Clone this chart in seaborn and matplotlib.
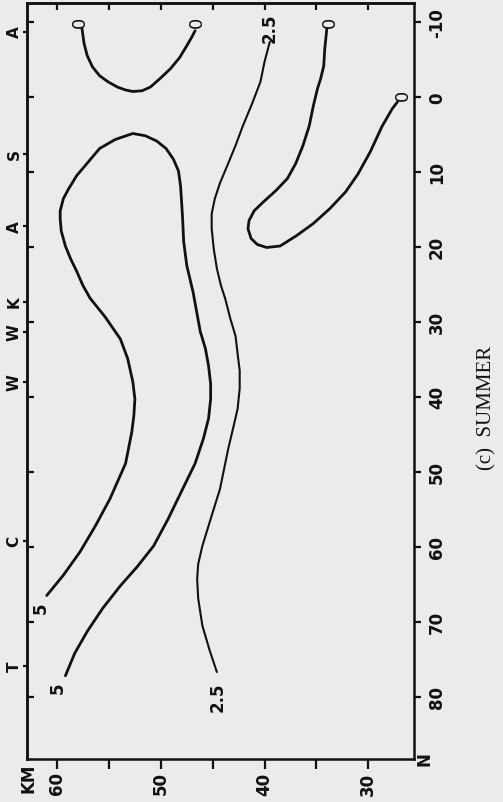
import matplotlib
matplotlib.use("Agg")
import matplotlib.pyplot as plt
import pandas as pd
import seaborn as sns

# ---- isopleth traces: altitude (km) and latitude (deg N) along each line ----
zero_west_alt = [57.6, 57.4, 57.1, 56.6, 55.9, 55.1, 54.2, 53.4, 52.7, 51.8,
                 51.0, 50.1, 49.1, 48.2, 47.5, 47.0, 46.7]
zero_west_lat = [-9.1, -7.1, -5.5, -4.0, -2.8, -2.0, -1.3, -0.9, -0.7, -0.8,
                 -1.3, -2.4, -3.7, -5.2, -6.8, -8.0, -8.8]

five_alt = [61.0, 59.4, 57.8, 56.3, 54.9, 53.4, 52.8, 52.6, 52.5, 52.7, 53.2,
            53.9, 55.4, 56.8, 57.5, 58.1, 58.7, 59.2, 59.6, 59.7, 59.7, 59.4,
            58.9, 58.1, 57.0, 55.9, 54.4, 52.7, 51.5, 50.4, 49.5, 48.8, 48.3,
            48.1, 48.0, 47.9, 47.8, 47.5, 46.9, 46.2, 45.7, 45.4, 45.2, 45.2,
            45.4, 45.9, 46.7, 47.9, 49.3, 50.7, 52.3, 53.9, 55.6, 57.1, 58.3,
            59.2]
five_lat = [66.5, 63.8, 60.7, 57.2, 53.6, 48.9, 44.7, 42.5, 40.3, 38.0, 34.9,
            32.3, 29.3, 26.9, 25.2, 23.3, 21.6, 19.9, 17.9, 16.3, 15.2, 13.6,
            12.3, 10.5, 8.7, 6.9, 5.7, 4.9, 5.2, 5.9, 6.9, 8.3, 9.9,
            11.9, 14.0, 16.3, 19.3, 22.5, 26.0, 31.3, 33.6, 35.9, 38.3, 40.3,
            42.9, 45.6, 48.9, 52.3, 56.3, 59.9, 62.7, 65.2, 68.2, 71.3, 74.2,
            77.2]

two_five_alt = [39.5, 40.0, 40.4, 41.2, 42.1, 42.8, 43.6, 44.3, 44.8, 45.1,
                45.1, 44.9, 44.6, 44.2, 43.8, 43.3, 42.8, 42.6, 42.4, 42.4,
                42.6, 43.0, 43.5, 44.3, 45.2, 46.0, 46.4, 46.5, 46.4, 46.0,
                45.3, 44.6]
two_five_lat = [-7.3, -4.7, -2.0, 0.9, 3.9, 6.5, 9.2, 11.5, 13.6, 15.6,
                17.6, 20.3, 22.9, 25.2, 26.9, 29.6, 31.9, 34.3, 36.5, 38.9,
                41.6, 44.0, 46.9, 52.3, 56.3, 59.9, 62.3, 64.3, 66.9, 70.5,
                73.8, 76.7]

zero_east_alt = [34.0, 34.2, 34.3, 34.6, 34.9, 35.3, 35.7, 36.3, 37.0, 37.8,
                 38.9, 40.1, 41.0, 41.5, 41.6, 41.3, 40.7, 39.8, 38.5, 36.9,
                 35.3, 33.7, 32.2, 31.0, 29.8, 28.7, 27.7, 27.2]
zero_east_lat = [-9.1, -6.4, -4.1, -2.4, -1.1, 1.2, 3.9, 6.5, 8.9, 10.9,
                 12.5, 14.0, 15.2, 16.5, 17.6, 18.9, 19.7, 20.1, 19.9, 18.5,
                 16.9, 14.9, 12.7, 10.3, 7.3, 4.0, 1.6, 0.7]

# ---- line values written at the ends of each isopleth ----
end_text = ["0", "0", "5", "5", "2.5", "2.5", "0", "0"]
end_alt = [57.8, 46.5, 61.6, 59.9, 39.5, 44.5, 33.7, 26.7]
end_lat = [-10.1, -10.0, 68.0, 78.7, -9.3, 79.9, -10.1, -0.3]

# ---- axes ticks ----
alt_major = [60, 50, 40, 30]
alt_minor = [55, 45, 35]
lat_ticks = [-10, 0, 10, 20, 30, 40, 50, 60, 70, 80]

# ---- stations along the upper edge ----
station_name = ["A", "S", "A", "K", "W", "W", "C", "T"]
station_lat = [-8.7, 7.6, 17.2, 27.3, 31.3, 38.0, 59.2, 75.9]

PAPER = "#ebebeb"
INK = "#111111"

sns.set_theme(style="white")
plt.rcParams["font.family"] = ["DejaVu Sans"]

fig = plt.figure(figsize=(5.03, 8.03), dpi=100, facecolor=PAPER)
ax = fig.add_axes([27 / 503, 43 / 803, 387 / 503, 756 / 803])
ax.set_facecolor(PAPER)

lines = [
    (zero_west_alt, zero_west_lat, 2.0),
    (five_alt, five_lat, 2.0),
    (two_five_alt, two_five_lat, 1.5),
    (zero_east_alt, zero_east_lat, 2.0),
]
for xs, ys, lw in lines:
    df = pd.DataFrame({"alt": xs, "lat": ys})
    sns.lineplot(data=df, x="alt", y="lat", sort=False, estimator=None,
                 color=INK, lw=lw, ax=ax, solid_joinstyle="round",
                 solid_capstyle="round")

for t, a, l in zip(end_text, end_alt, end_lat):
    ax.text(a, l, t, rotation=90, ha="center", va="center", color=INK,
            fontsize=12 if t != "0" else 13,
            fontweight="bold" if t != "0" else "normal")

ax.set_xlim(62.9, 25.6)
ax.set_ylim(88.3, -12.5)
ax.set_xlabel("")
ax.set_ylabel("")

for sp in ax.spines.values():
    sp.set_visible(True)
    sp.set_linewidth(1.8)
    sp.set_color(INK)

# altitude scale (bottom)
ax.set_xticks(alt_major, labels=[str(v) for v in alt_major])
ax.set_xticks(alt_minor, minor=True)
ax.tick_params(axis="x", which="both", direction="out", length=7, width=1.6,
               color=INK, bottom=True, top=False, pad=2, labelsize=12,
               labelrotation=90, labelcolor=INK)
for lab in ax.get_xticklabels():
    lab.set_fontweight("bold")

# latitude scale (right)
ax.yaxis.tick_right()
ax.set_yticks(lat_ticks, labels=[str(v) for v in lat_ticks])
ax.tick_params(axis="y", which="major", direction="out", length=5, width=1.6,
               color=INK, left=False, right=True, labelleft=False,
               labelright=True, pad=5, labelsize=12, labelrotation=90,
               labelcolor=INK)
for lab in ax.get_yticklabels():
    lab.set_fontweight("bold")
    lab.set_va("center")

# inner ticks along the upper edge
top = ax.secondary_xaxis("top")
top.set_ticks(alt_major + alt_minor)
top.tick_params(axis="x", direction="in", length=5, width=1.6, color=INK,
                labeltop=False, labelbottom=False)
for sp in top.spines.values():
    sp.set_linewidth(1.8)
    sp.set_color(INK)

# station marks along the left edge
left = ax.secondary_yaxis("left")
left.set_ticks(station_lat, labels=station_name)
left.set_ticks(lat_ticks, minor=True)
left.tick_params(axis="y", which="major", direction="out", length=3,
                 width=1.6, color=INK, pad=1, labelsize=11,
                 labelrotation=90, labelcolor=INK)
left.tick_params(axis="y", which="minor", direction="in", length=5,
                 width=1.6, color=INK)
for lab in left.get_yticklabels():
    lab.set_fontweight("bold")
    lab.set_va("center")
for sp in left.spines.values():
    sp.set_linewidth(1.8)
    sp.set_color(INK)

ax.text(0.003, -0.024, "KM", transform=ax.transAxes, rotation=90,
        ha="center", va="center", fontsize=12, fontweight="bold", color=INK)
ax.text(1.028, 0.001, "N", transform=ax.transAxes, rotation=90,
        ha="center", va="center", fontsize=12, fontweight="bold", color=INK)
ax.text(1.189, 0.4656, "(c)  SUMMER", transform=ax.transAxes, rotation=90,
        ha="center", va="center", fontsize=15, color=INK,
        family=["Liberation Serif", "DejaVu Serif"])

fig.savefig("out.png", dpi=100, facecolor=PAPER)
